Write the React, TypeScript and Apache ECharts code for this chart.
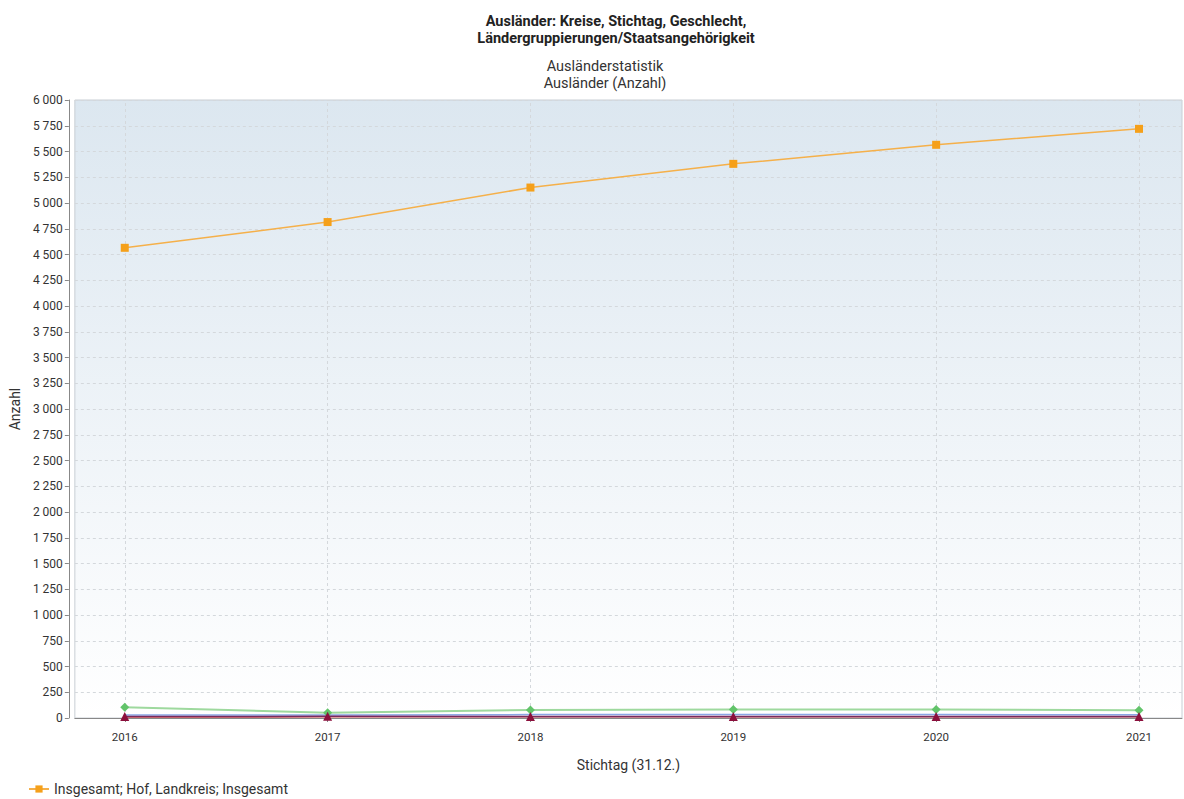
import React, { useEffect, useRef } from "react";
import * as echarts from "echarts";

const years = [2016, 2017, 2018, 2019, 2020, 2021];
const seriesNames = [
  "Insgesamt; Hof, Landkreis; Insgesamt",
  "Insgesamt; Hof, Landkreis; Afrika",
  "Insgesamt; Hof, Landkreis; Amerika",
  "Insgesamt; Hof, Landkreis; Australien und Ozeanien",
  "Insgesamt; Hof, Landkreis; Staatenlos",
];
const totalValues = [4565, 4815, 5150, 5380, 5565, 5720];
const greenValues = [105, 50, 78, 83, 83, 75];
const blueValues = [28, 30, 33, 33, 33, 31];
const redValues = [10, 11, 12, 12, 12, 12];
const maroonValues = [14, 16, 15, 15, 15, 14];
const yTicks = { min: 0, max: 6000, interval: 250 };
const titleLines = ["Ausländer: Kreise, Stichtag, Geschlecht,", "Ländergruppierungen/Staatsangehörigkeit"];
const subtitleLines = ["Ausländerstatistik", "Ausländer (Anzahl)"];

const FONT = "Roboto, 'Noto Sans', sans-serif";

function fmt(v: number): string {
  const s = String(Math.round(v));
  return s.replace(/\B(?=(\d{3})+(?!\d))/g, " ");
}

export default function App() {
  const ref = useRef<HTMLDivElement>(null);
  useEffect(() => {
    if (!ref.current) return;
    const chart = echarts.init(ref.current, undefined, { renderer: "svg" });
    const mk = (vals: number[]) => vals.map((v, i) => [years[i], v]);
    const option: any = {
      animation: false,
      backgroundColor: "#ffffff",
      textStyle: { fontFamily: FONT },
      title: [
        {
          text: titleLines.join("\n"),
          left: 611,
          top: 8,
          textAlign: "center",
          textStyle: { fontFamily: FONT, fontSize: 14.5, fontWeight: "bold", color: "#222", lineHeight: 17 },
        },
        {
          text: subtitleLines.join("\n"),
          left: 600,
          top: 53,
          textAlign: "center",
          textStyle: { fontFamily: FONT, fontSize: 14.5, fontWeight: "normal", color: "#333", lineHeight: 17 },
        },
      ],
      legend: {
        data: [seriesNames[0]],
        left: 28,
        top: 782,
        padding: 0,
        itemWidth: 20,
        itemHeight: 9,
        itemGap: 6,
        textStyle: { fontFamily: FONT, fontSize: 14, lineHeight: 14, color: "#333" },
      },
      grid: {
        left: 74,
        right: 2,
        top: 100,
        bottom: 81,
        show: true,
        borderColor: "#c8ced4",
        borderWidth: 1,
        backgroundColor: new echarts.graphic.LinearGradient(0, 0, 0, 1, [
          { offset: 0, color: "#dce7f0" },
          { offset: 1, color: "#ffffff" },
        ]),
      },
      xAxis: {
        type: "value",
        min: 2015.754,
        max: 2021.212,
        offset: 6,
        name: "Stichtag (31.12.)",
        nameLocation: "middle",
        nameGap: 34,
        nameTextStyle: { fontFamily: FONT, fontSize: 14, color: "#333" },
        axisLine: { show: true, lineStyle: { color: "#888", width: 1 } },
        axisTick: { show: true, customValues: years, length: 4, lineStyle: { color: "#888" } },
        axisLabel: {
          customValues: years,
          formatter: (v: number) => String(v),
          fontFamily: FONT,
          fontSize: 11.5,
          color: "#333",
          margin: 7,
        },
        splitLine: { show: false },
      },
      yAxis: {
        type: "value",
        min: yTicks.min,
        max: yTicks.max,
        interval: yTicks.interval,
        offset: 6,
        name: "Anzahl",
        nameLocation: "middle",
        nameGap: 46,
        nameRotate: 90,
        nameTextStyle: { fontFamily: FONT, fontSize: 14, color: "#333" },
        axisLine: { show: true, lineStyle: { color: "#888", width: 1 } },
        axisTick: { show: true, length: 4, lineStyle: { color: "#888" } },
        axisLabel: { formatter: fmt, fontFamily: FONT, fontSize: 12, color: "#333", margin: 6 },
        splitLine: { show: true, lineStyle: { color: "#d4d8dc", type: [3, 3], width: 1 } },
      },
      series: [
        {
          name: seriesNames[0],
          type: "line",
          data: mk(totalValues),
          symbol: "rect",
          symbolSize: 8,
          itemStyle: { color: "#f5a01a" },
          lineStyle: { color: "#f5b04a", width: 1.5 },
          z: 5,
          markLine: {
            silent: true,
            symbol: "none",
            label: { show: false },
            lineStyle: { color: "#d4d8dc", type: [3, 3], width: 1 },
            data: years.map((y) => ({ xAxis: y })),
            z: 1,
          },
        },
        {
          name: seriesNames[1],
          type: "line",
          data: mk(greenValues),
          symbol: "diamond",
          symbolSize: 9,
          itemStyle: { color: "#62c46a" },
          lineStyle: { color: "#9ed99e", width: 2 },
        },
        {
          name: seriesNames[2],
          type: "line",
          data: mk(blueValues),
          symbol: "none",
          lineStyle: { color: "#8aa6e6", width: 1.5 },
        },
        {
          name: seriesNames[3],
          type: "line",
          data: mk(redValues),
          symbol: "none",
          lineStyle: { color: "#d9534f", width: 1.5 },
        },
        {
          name: seriesNames[4],
          type: "line",
          data: mk(maroonValues),
          symbol: "triangle",
          symbolSize: 9,
          itemStyle: { color: "#8b0f3c" },
          lineStyle: { color: "#7a2a5e", width: 1.5 },
        },
      ],
    };
    chart.setOption(option);
    return () => chart.dispose();
  }, []);
  return <div ref={ref} style={{ width: 1184, height: 799, position: "absolute", left: 0, top: 0 }} />;
}
